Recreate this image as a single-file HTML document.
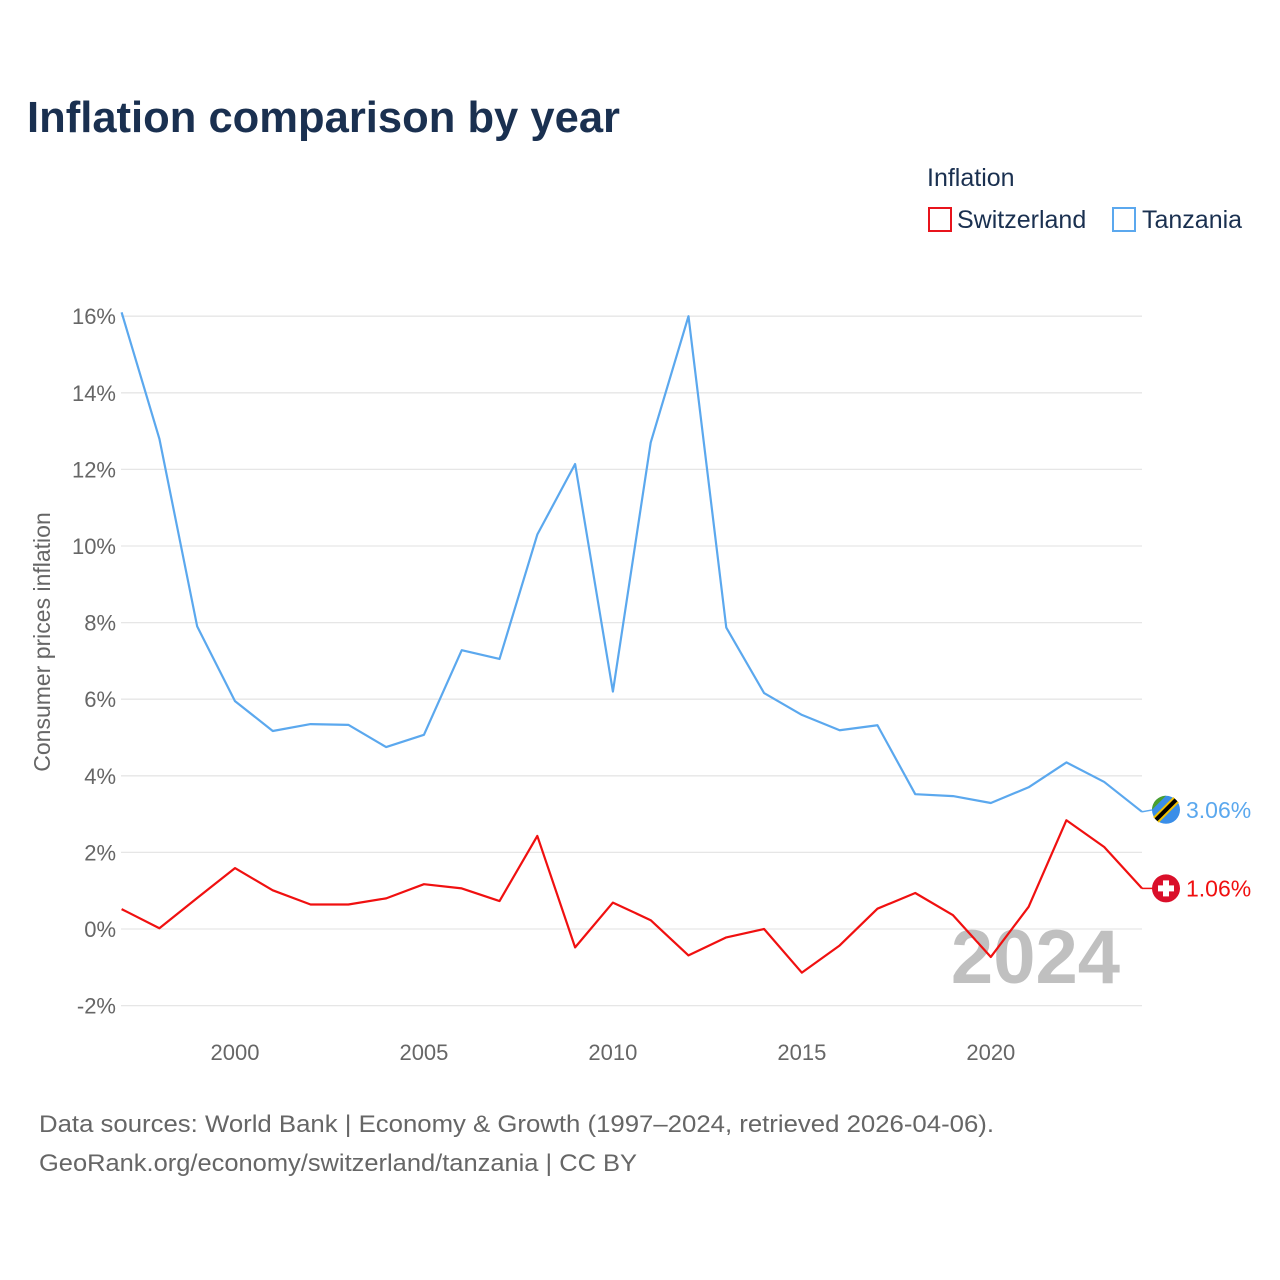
<!DOCTYPE html>
<html><head><meta charset="utf-8">
<style>
body{margin:0;background:#fff;font-family:"Liberation Sans",sans-serif;}
#wrap{position:relative;width:1280px;height:1280px;overflow:hidden;}
</style></head>
<body>
<div id="wrap">
<svg id="chart" width="1280" height="1280" xmlns="http://www.w3.org/2000/svg">
<text x="27" y="132" font-size="44" font-weight="bold" fill="#1a3050" textLength="593" lengthAdjust="spacingAndGlyphs">Inflation comparison by year</text>
<text x="927" y="186" font-size="25" fill="#1a3050">Inflation</text>
<g>
<rect x="929" y="208" width="22" height="23" fill="none" stroke="#e8141c" stroke-width="2"/>
<text x="957" y="228" font-size="25" fill="#1a3050">Switzerland</text></g>
<g>
<rect x="1113" y="208" width="22" height="23" fill="none" stroke="#5ba8ee" stroke-width="2"/>
<text x="1142" y="228" font-size="25" fill="#1a3050">Tanzania</text></g>
<text transform="translate(50,642) rotate(-90)" text-anchor="middle" font-size="23" fill="#666">Consumer prices inflation</text>
<g id="grid"></g><g id="yt"></g><g id="xt"></g>
<text x="1120" y="983" text-anchor="end" font-size="76" font-weight="bold" fill="#c0c0c0">2024</text>
<g id="lines"></g>
<text x="39" y="1132" font-size="24" fill="#666" textLength="955" lengthAdjust="spacingAndGlyphs">Data sources: World Bank | Economy &amp; Growth (1997–2024, retrieved 2026-04-06).</text>
<text x="39" y="1171" font-size="24" fill="#666" textLength="598" lengthAdjust="spacingAndGlyphs">GeoRank.org/economy/switzerland/tanzania | CC BY</text>
</svg>
</div>
<script>
const years=[1997,1998,1999,2000,2001,2002,2003,2004,2005,2006,2007,2008,2009,2010,2011,2012,2013,2014,2015,2016,2017,2018,2019,2020,2021,2022,2023,2024];
const tanzania=[16.1,12.8,7.9,5.95,5.17,5.35,5.33,4.75,5.07,7.28,7.05,10.3,12.14,6.2,12.7,16.0,7.87,6.16,5.59,5.19,5.32,3.52,3.47,3.29,3.7,4.35,3.84,3.06];
const switzerland=[0.52,0.02,0.81,1.59,1.01,0.64,0.64,0.8,1.17,1.06,0.73,2.43,-0.48,0.69,0.23,-0.69,-0.22,0.0,-1.14,-0.43,0.53,0.94,0.36,-0.73,0.58,2.84,2.14,1.06];
const yTicks=[-2,0,2,4,6,8,10,12,14,16];
const xTicks=[2000,2005,2010,2015,2020];
const NS="http://www.w3.org/2000/svg";
const X=y=>121.6+(y-1997)*(1142-121.6)/27;
const Y=v=>929-v*38.3;
function mk(t,a,p){const e=document.createElementNS(NS,t);for(const k in a)e.setAttribute(k,a[k]);p.appendChild(e);return e;}
const grid=document.getElementById('grid'),yt=document.getElementById('yt'),xt=document.getElementById('xt'),lines=document.getElementById('lines');
yTicks.forEach(v=>{
 const l=mk('line',{x1:121,x2:1142,y1:Y(v),y2:Y(v),stroke:'#e6e6e6','stroke-width':1.3},grid);
 
 
 const t=mk('text',{x:116,y:Y(v)+8,'text-anchor':'end','font-size':22,fill:'#666'},yt);
 t.textContent=v+'%';
 
 
});
xTicks.forEach(y=>{
 const t=mk('text',{x:X(y),y:1060,'text-anchor':'middle','font-size':22,fill:'#666'},xt);
 t.textContent=y;
 
 
});
function series(vals,col,name,dy){
 const p=mk('polyline',{points:vals.map((v,i)=>X(years[i])+','+Y(v)).join(' '),fill:'none',stroke:col,'stroke-width':2.2,'stroke-linejoin':'round'},lines);
 
 
 const last=vals[vals.length-1];
 const ly=Y(last)+dy;
 mk('line',{x1:1142,x2:1153,y1:Y(last),y2:ly,stroke:col,'stroke-width':1.5},lines);
 const g=mk('g',{},lines);
 
 
 if(name==='switzerland'){
  mk('circle',{cx:1166,cy:ly,r:14,fill:'#da0f2a'},g);
  mk('rect',{x:1163,y:ly-8,width:6,height:16,fill:'#fff'},g);
  mk('rect',{x:1158,y:ly-3,width:16,height:6,fill:'#fff'},g);
 }else{
  mk('circle',{cx:1166,cy:ly,r:14,fill:'#3a8ee8'},g);
  mk('path',{d:`M1152,${ly} A14,14 0 0 1 1166,${ly-14} L1152,${ly} Z`,fill:'#4aa02c'},g);
  mk('path',{d:`M1156,${ly+10} L1176,${ly-10}`,stroke:'#f0c000','stroke-width':8},g);
  mk('path',{d:`M1156,${ly+10} L1176,${ly-10}`,stroke:'#000','stroke-width':4},g);
 }
 const t=mk('text',{x:1186,y:ly+8,'font-size':23,fill:col},lines);
 t.textContent=last.toFixed(2)+'%';
 
 
}
series(tanzania,'#5ba8ee','tanzania',-2);
series(switzerland,'#f01010','switzerland',0);
</script>
</body></html>
